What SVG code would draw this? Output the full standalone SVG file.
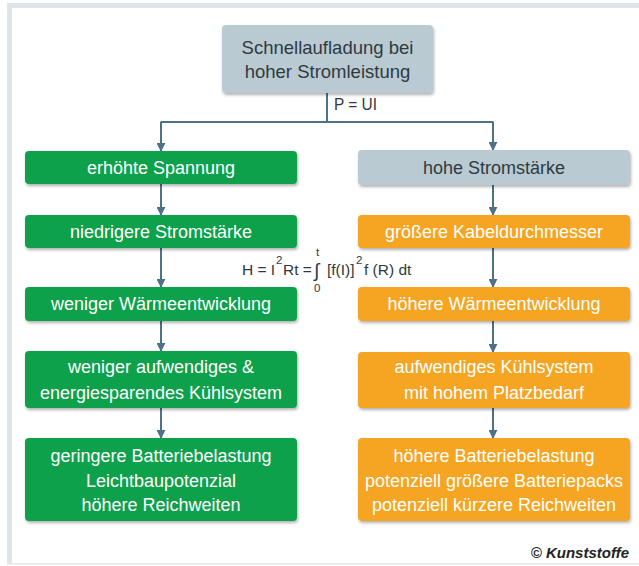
<svg xmlns="http://www.w3.org/2000/svg" width="639" height="566" viewBox="0 0 639 566">
<defs>
<style>
.t{font-family:"Liberation Sans",Arial,sans-serif;font-size:18px;text-anchor:middle;fill:#fff}
.d{fill:#2f3a40}
.g{fill:#0aa14b}
.o{fill:#f6a520}
.b{fill:#b9cad3}
.c{fill:none;stroke:#4d7186;stroke-width:2}
.f{font-family:"Liberation Sans",Arial,sans-serif;font-size:15.5px;fill:#2f3a40}
.s{font-size:11.5px}
</style>
<marker id="ah" viewBox="0 0 10 10" refX="9" refY="5" markerWidth="4.5" markerHeight="4.5" orient="auto" markerUnits="strokeWidth">
<path d="M0,0 L10,5 L0,10 Z" fill="#4d7186"/>
</marker>
<filter id="sh" x="-5%" y="-10%" width="110%" height="130%">
<feDropShadow dx="1" dy="2" stdDeviation="1.6" flood-color="#000" flood-opacity="0.3"/>
</filter>
</defs>
<rect x="0" y="0" width="639" height="566" fill="#fff"/>
<rect x="7" y="3" width="632" height="5" fill="#dde4ea"/>
<rect x="7" y="3" width="5" height="561" fill="#dde4ea"/>
<rect x="7" y="563" width="632" height="1.5" fill="#e4e6e8"/>

<g id="connectors">
<path class="c" d="M327,93 V122"/>
<path class="c" d="M160.5,122 H493.5"/>
<path class="c" d="M161,122 V151" marker-end="url(#ah)"/>
<path class="c" d="M493,122 V150" marker-end="url(#ah)"/>
<path class="c" d="M161,184 V215" marker-end="url(#ah)"/>
<path class="c" d="M161,248 V287" marker-end="url(#ah)"/>
<path class="c" d="M161,321 V351" marker-end="url(#ah)"/>
<path class="c" d="M161,408 V438" marker-end="url(#ah)"/>
<path class="c" d="M493,185 V215" marker-end="url(#ah)"/>
<path class="c" d="M493,248 V287" marker-end="url(#ah)"/>
<path class="c" d="M493,321 V352" marker-end="url(#ah)"/>
<path class="c" d="M493,408 V438" marker-end="url(#ah)"/>
<text class="f" x="334" y="110" style="font-size:16px" textLength="43" lengthAdjust="spacingAndGlyphs">P = UI</text>
</g>

<g id="n-top"><rect class="b" x="222" y="25" width="211" height="68" rx="4" filter="url(#sh)"/>
<text class="t d" x="327.5" y="54" style="font-size:18.5px">Schnellaufladung bei</text>
<text class="t d" x="327.5" y="78" style="font-size:18.5px">hoher Stromleistung</text></g>

<g id="n-l1"><rect class="g" x="25" y="151" width="272" height="33" rx="4" filter="url(#sh)"/>
<text class="t" x="161" y="174">erhöhte Spannung</text></g>
<g id="n-l2"><rect class="g" x="25" y="215" width="272" height="33" rx="4" filter="url(#sh)"/>
<text class="t" x="161" y="238">niedrigere Stromstärke</text></g>
<g id="n-l3"><rect class="g" x="25" y="287" width="272" height="34" rx="4" filter="url(#sh)"/>
<text class="t" x="161" y="310">weniger Wärmeentwicklung</text></g>
<g id="n-l4"><rect class="g" x="25" y="351" width="272" height="57" rx="4" filter="url(#sh)"/>
<text class="t" x="161" y="373">weniger aufwendiges &amp;</text>
<text class="t" x="161" y="399">energiesparendes Kühlsystem</text></g>
<g id="n-l5"><rect class="g" x="25" y="438" width="272" height="83" rx="4" filter="url(#sh)"/>
<text class="t" x="161" y="462">geringere Batteriebelastung</text>
<text class="t" x="161" y="487">Leichtbaupotenzial</text>
<text class="t" x="161" y="511">höhere Reichweiten</text></g>

<g id="n-r1"><rect class="b" x="358" y="150" width="272" height="35" rx="4" filter="url(#sh)"/>
<text class="t d" x="494" y="174">hohe Stromstärke</text></g>
<g id="n-r2"><rect class="o" x="358" y="215" width="272" height="33" rx="4" filter="url(#sh)"/>
<text class="t" x="494" y="238">größere Kabeldurchmesser</text></g>
<g id="n-r3"><rect class="o" x="358" y="287" width="272" height="34" rx="4" filter="url(#sh)"/>
<text class="t" x="494" y="310">höhere Wärmeentwicklung</text></g>
<g id="n-r4"><rect class="o" x="358" y="352" width="272" height="56" rx="4" filter="url(#sh)"/>
<text class="t" x="494" y="373">aufwendiges Kühlsystem</text>
<text class="t" x="494" y="399">mit hohem Platzbedarf</text></g>
<g id="n-r5"><rect class="o" x="358" y="438" width="272" height="83" rx="4" filter="url(#sh)"/>
<text class="t" x="494" y="462">höhere Batteriebelastung</text>
<text class="t" x="494" y="487">potenziell größere Batteriepacks</text>
<text class="t" x="494" y="511">potenziell kürzere Reichweiten</text></g>

<g id="formula">
<text class="f" x="242" y="275">H = I</text>
<text class="f s" x="276" y="264">2</text>
<text class="f" x="283" y="275">Rt =</text>
<text class="f" x="314" y="277" style="font-size:19px">∫</text>
<text class="f s" x="316" y="256">t</text>
<text class="f s" x="314" y="292">0</text>
<text class="f" x="327" y="275">[f(I)]</text>
<text class="f s" x="356" y="264">2</text>
<text class="f" x="364" y="275">f (R) dt</text>
</g>

<text x="629" y="558" text-anchor="end" style="font-family:'Liberation Sans',Arial,sans-serif;font-size:15px;font-weight:bold;font-style:italic;fill:#222">© Kunststoffe</text>
</svg>
